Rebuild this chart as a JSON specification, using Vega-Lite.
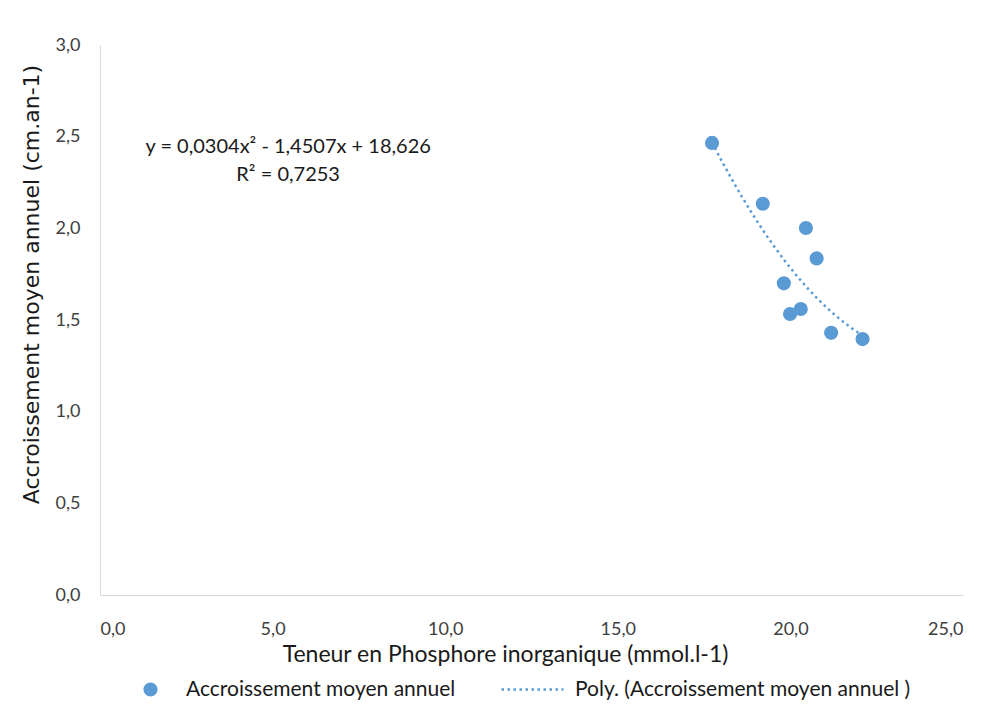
{
  "$schema": "https://vega.github.io/schema/vega-lite/v6.json",
  "width": 863,
  "height": 550,
  "autosize": {"type": "none"},
  "padding": {"left": 100, "top": 45, "right": 26, "bottom": 118},
  "background": "white",
  "config": {
    "view": {"stroke": null},
    "font": "Lato"
  },
  "datasets": {
    "pts": [
      {"p": 17.73, "a": 2.466},
      {"p": 19.20, "a": 2.134},
      {"p": 20.45, "a": 2.002},
      {"p": 20.76, "a": 1.836},
      {"p": 19.81, "a": 1.700},
      {"p": 19.99, "a": 1.533},
      {"p": 20.30, "a": 1.560},
      {"p": 21.18, "a": 1.430},
      {"p": 22.09, "a": 1.396}
    ],
    "eq": [
      {"p": 5.45, "a": 2.445, "t": "y = 0,0304x² - 1,4507x + 18,626"},
      {"p": 5.45, "a": 2.29, "t": "R² = 0,7253"}
    ]
  },
  "layer": [
    {
      "data": {"name": "pts"},
      "transform": [{"regression": "a", "on": "p", "method": "poly", "order": 2}],
      "mark": {"type": "line", "color": "#5B9BD5", "strokeWidth": 2.5, "strokeCap": "butt"},
      "encoding": {
        "x": {"field": "p", "type": "quantitative",
          "scale": {"domain": [0, 25], "nice": false},
          "axis": {"values": [0, 5, 10, 15, 20, 25], "labelExpr": "replace(format(datum.value, '.1f'), '.', ',')",
            "title": "Teneur en Phosphore inorganique (mmol.l-1)", "titleFontSize": 23, "titleFontWeight": "normal", "titleColor": "#1a1a1a",
            "titleX": 405, "titleY": 48, "titleFont": "Lato",
            "labelFontSize": 18, "labelColor": "#404040", "labelPadding": 25, "ticks": false, "grid": false,
            "domainColor": "#D9D9D9", "labelFont": "Lato"}},
        "y": {"field": "a", "type": "quantitative",
          "scale": {"domain": [0, 3], "nice": false},
          "axis": {"values": [0, 0.5, 1, 1.5, 2, 2.5, 3], "labelExpr": "replace(format(datum.value, '.1f'), '.', ',')",
            "title": "Accroissement moyen annuel (cm.an-1)", "titleFontSize": 22, "titleFontWeight": "normal", "titleColor": "#1a1a1a",
            "titleFont": "DejaVu Sans", "titleX": -57, "titleY": 239,
            "labelFontSize": 18, "labelColor": "#404040", "labelPadding": 20, "ticks": false, "grid": false,
            "domainColor": "#D9D9D9", "labelFont": "Lato"}},
        "strokeDash": {"datum": "Poly. (Accroissement moyen annuel )", "type": "nominal",
          "scale": {"range": [[2.5, 3.5]]},
          "legend": {"title": null, "orient": "none", "legendX": 400, "legendY": 612,
            "symbolType": "stroke", "symbolSize": 3844, "symbolStrokeColor": "#5B9BD5", "symbolStrokeWidth": 2.5,
            "labelFontSize": 21, "labelColor": "#1a1a1a", "labelFont": "Lato", "labelOffset": 10, "labelLimit": 0}}
      }
    },
    {
      "data": {"name": "pts"},
      "mark": {"type": "point", "filled": true, "color": "#5B9BD5", "opacity": 1, "size": 200},
      "encoding": {
        "x": {"field": "p", "type": "quantitative"},
        "y": {"field": "a", "type": "quantitative"},
        "shape": {"datum": "Accroissement moyen annuel", "type": "nominal",
          "scale": {"range": ["circle"]},
          "legend": {"title": null, "orient": "none", "legendX": 40, "legendY": 634,
            "symbolSize": 200, "symbolFillColor": "#5B9BD5", "symbolStrokeColor": "#5B9BD5", "symbolOpacity": 1,
            "labelFontSize": 21, "labelColor": "#1a1a1a", "labelFont": "Lato", "labelOffset": 25, "labelLimit": 0}}
      }
    },
    {
      "data": {"name": "eq"},
      "mark": {"type": "text", "fontSize": 20, "color": "#1a1a1a", "font": "Lato"},
      "encoding": {
        "x": {"field": "p", "type": "quantitative"},
        "y": {"field": "a", "type": "quantitative"},
        "text": {"field": "t"}
      }
    }
  ],
  "resolve": {"legend": {"shape": "independent", "strokeDash": "independent"}}
}
